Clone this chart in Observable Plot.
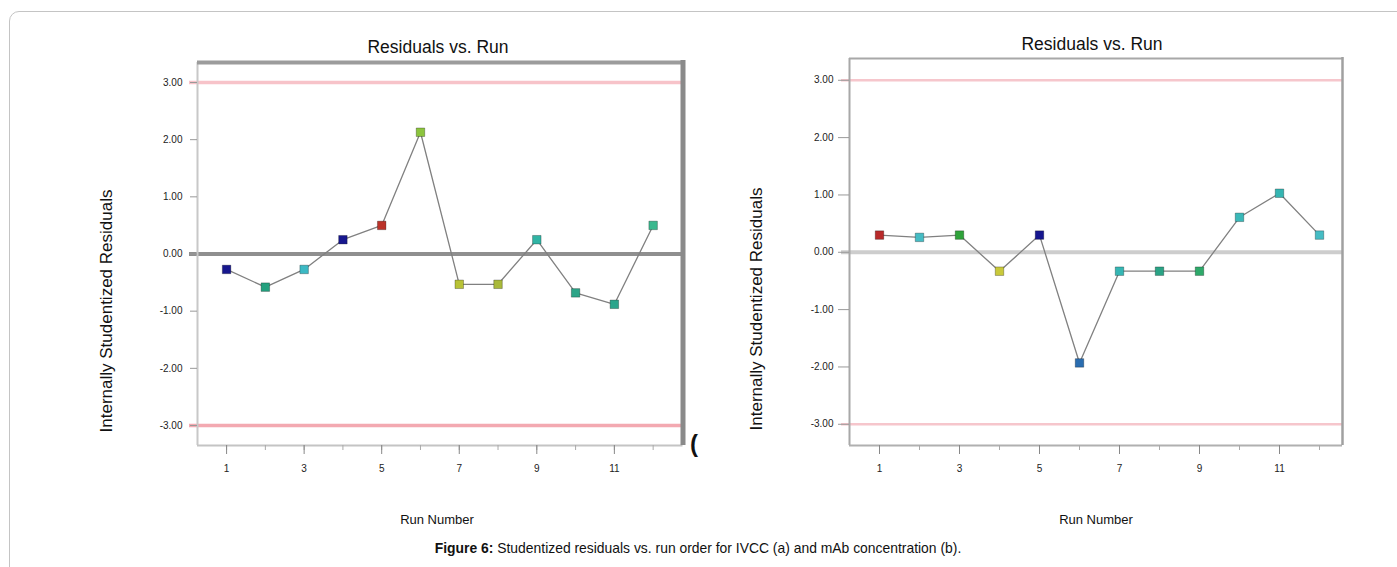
<!DOCTYPE html>
<html>
<head>
<meta charset="utf-8">
<script src="https://cdn.jsdelivr.net/npm/d3@7"></script>
<script src="https://cdn.jsdelivr.net/npm/@observablehq/plot@0.6"></script>
<style>
  html, body { margin: 0; padding: 0; background: #fff; width: 1397px; height: 567px; overflow: hidden; }
  body { position: relative; font-family: "Liberation Sans", Arial, sans-serif; color: #111; }
  .border { position: absolute; left: 9px; top: 11px; width: 1600px; height: 800px; border: 1px solid #c4c4c4; border-radius: 10px; }
  .t { position: absolute; transform: translate(-50%, -50%); white-space: nowrap; line-height: 1; }
  .chart { position: absolute; }
  .chart svg { overflow: visible; }
</style>
</head>
<body>
<div class="border"></div>
<div id="chartA" class="chart" style="left:90px; top:20px;"></div>
<div id="chartB" class="chart" style="left:740px; top:20px;"></div>

<div class="t" style="left:438px; top:48px; font-size:17.5px;">Residuals vs. Run</div>
<div class="t" style="left:1092px; top:45px; font-size:17.5px;">Residuals vs. Run</div>
<div class="t" style="left:106px; top:311px; font-size:17px; transform: translate(-50%, -50%) rotate(-90deg);">Internally Studentized Residuals</div>
<div class="t" style="left:756px; top:309px; font-size:17px; transform: translate(-50%, -50%) rotate(-90deg);">Internally Studentized Residuals</div>
<div class="t" style="left:437px; top:519px; font-size:13px;">Run Number</div>
<div class="t" style="left:1096px; top:519px; font-size:13px;">Run Number</div>
<div class="t" style="left:694px; top:444px; font-size:24px; font-weight:bold;">(</div>
<div class="t" style="left:698px; top:549px; font-size:13.9px;"><b>Figure 6:</b> Studentized residuals vs. run order for IVCC (a) and mAb concentration (b).</div>

<script>
// ---- data ----
const runs = [1, 2, 3, 4, 5, 6, 7, 8, 9, 10, 11, 12];
const oddRuns = [1, 3, 5, 7, 9, 11];
const residualsA = [-0.27, -0.58, -0.27, 0.25, 0.50, 2.13, -0.53, -0.53, 0.25, -0.68, -0.88, 0.50];
const residualsB = [0.30, 0.26, 0.30, -0.33, 0.30, -1.93, -0.33, -0.33, -0.33, 0.61, 1.03, 0.30];
const colorsA = ["#17178e", "#23a07e", "#3cb9c4", "#17178e", "#bb3229", "#8cc43e", "#b8c236", "#a9b93a", "#30b4a4", "#2ca487", "#2ba58c", "#3bb88e"];
const colorsB = ["#b82a2a", "#45bcc4", "#2fa23a", "#c9c93a", "#16168f", "#2a6db0", "#35b6b4", "#2aa385", "#2ea96a", "#3ab8b8", "#35b5b2", "#45bcc4"];
const yTicks = [-3, -2, -1, 0, 1, 2, 3];
const limits = [-3, 3];
const zero = [0];
const xDomainA = [0.25, 12.77];
const yDomainA = [-3.35, 3.35];
const xDomainB = [0.25, 12.575];
const yDomainB = [-3.37, 3.38];

function table(values, colors) {
  return runs.map((r, i) => ({run: r, value: values[i], color: colors[i]}));
}

function chart(opts) {
  const data = table(opts.values, opts.colors);
  return Plot.plot({
    width: opts.width, height: opts.height,
    marginLeft: opts.ml, marginRight: opts.mr, marginTop: opts.mt, marginBottom: opts.mb,
    x: {domain: opts.xDomain},
    y: {domain: opts.yDomain},
    color: {type: "identity"},
    style: {fontFamily: "'Liberation Sans', Arial, sans-serif", fontSize: "10px", background: "transparent", color: "#222"},
    marks: [
      Plot.ruleY([limits[1]], {stroke: opts.limitColorTop, strokeWidth: opts.limitWidth, insetLeft: -8}),
      Plot.ruleY([limits[0]], {stroke: opts.limitColorBottom, strokeWidth: opts.limitWidth, insetLeft: -8}),
      Plot.ruleY(zero, {stroke: opts.zeroColor, strokeWidth: 4, insetLeft: -8}),
      // frame edges
      Plot.ruleX([opts.xDomain[0]], {stroke: opts.leftColor, strokeWidth: 2}),
      Plot.ruleY([opts.yDomain[0]], {stroke: opts.bottomColor, strokeWidth: 2}),
      Plot.ruleY([opts.yDomain[1]], {stroke: opts.topColor, strokeWidth: opts.topWidth, insetRight: -opts.rightWidth / 2}),
      Plot.ruleX([opts.xDomain[1]], {stroke: opts.rightColor, strokeWidth: opts.rightWidth, insetTop: -opts.topWidth / 2}),
      Plot.axisY({ticks: yTicks, tickFormat: d => d.toFixed(2), tickSize: opts.ytick, tickPadding: opts.ypad, stroke: "#999", label: null}),
      Plot.axisX({ticks: runs, tickSize: 5, tickFormat: () => "", stroke: "#aaa", label: null}),
      Plot.axisX({ticks: oddRuns, tickSize: 9, tickPadding: 10.5, stroke: "#888", label: null}),
      Plot.line(data, {x: "run", y: "value", stroke: "#808080", strokeWidth: 1.3}),
      Plot.dot(data, {x: "run", y: "value", symbol: "square", r: 4.8, fill: "color", stroke: "rgba(0,0,0,0.35)", strokeWidth: 0.8})
    ]
  });
}

document.getElementById("chartA").append(chart({
  values: residualsA, colors: colorsA, xDomain: xDomainA, yDomain: yDomainA,
  width: 610, height: 480, ml: 107, mr: 17.5, mt: 42, mb: 55,
  limitColorTop: "#f7c3c9", limitColorBottom: "#f3a9b1", limitWidth: 3.5, zeroColor: "#8f8f8f",
  leftColor: "#c8c8c8", bottomColor: "#c4c4c4", topColor: "#9c9c9c", topWidth: 4,
  rightColor: "#8a8a8a", rightWidth: 5, ytick: 7, ypad: 8
}));

document.getElementById("chartB").append(chart({
  values: residualsB, colors: colorsB, xDomain: xDomainB, yDomain: yDomainB,
  width: 640, height: 480, ml: 109, mr: 38, mt: 38, mb: 55,
  limitColorTop: "#f6c6cc", limitColorBottom: "#f6c6cc", limitWidth: 2.5, zeroColor: "#cdcdcd",
  leftColor: "#a8a8a8", bottomColor: "#b0b0b0", topColor: "#a8a8a8", topWidth: 2,
  rightColor: "#a0a0a0", rightWidth: 2.5, ytick: 11, ypad: 5
}));
</script>
</body>
</html>
